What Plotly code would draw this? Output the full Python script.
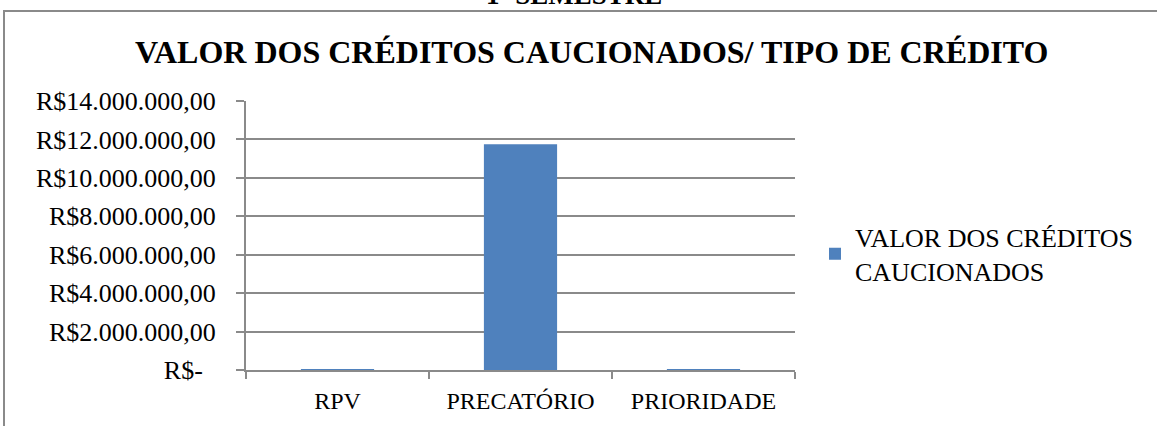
import plotly.graph_objects as go

categories = ["RPV", "PRECATÓRIO", "PRIORIDADE"]
values = [25000, 11750000, 25000]
series_name = "VALOR DOS CRÉDITOS<br>CAUCIONADOS"
y_tickvals = [0, 2000000, 4000000, 6000000, 8000000, 10000000, 12000000, 14000000]
y_ticktext = ["R$-\u00a0\u00a0", "R$2.000.000,00", "R$4.000.000,00", "R$6.000.000,00",
              "R$8.000.000,00", "R$10.000.000,00", "R$12.000.000,00", "R$14.000.000,00"]
title_text = "VALOR DOS CRÉDITOS CAUCIONADOS/ TIPO DE CRÉDITO"
super_title = "1º SEMESTRE"

W, H = 1157, 426
L, R, T, B = 246, 795, 101, 370
pw, ph = R - L, B - T

def px(x):
    return (x - L) / pw

def py(y):
    return (B - y) / ph

FONT = "Liberation Serif, Times New Roman, serif"
GRAY = "#8a8a8a"

fig = go.Figure()
fig.add_trace(go.Bar(x=categories, y=values, name=series_name,
                     marker=dict(color="#4F81BD", line=dict(width=0)),
                     showlegend=True))

fig.update_layout(
    width=W, height=H,
    margin=dict(l=L, r=W - R, t=T, b=H - B, pad=0),
    paper_bgcolor="white", plot_bgcolor="white",
    font=dict(family=FONT, color="black", size=24),
    bargap=0.6,
    showlegend=True,
    legend=dict(x=px(815), y=py(254), xanchor="left", yanchor="middle",
                font=dict(size=26, family=FONT), itemwidth=30,
                bgcolor="rgba(0,0,0,0)", tracegroupgap=0),
    xaxis=dict(type="category", showgrid=False, showline=True, linecolor=GRAY,
               linewidth=2, ticks="outside", ticklen=7, tickcolor=GRAY, tickwidth=2,
               tickson="boundaries", tickfont=dict(size=24, family=FONT),
               zeroline=False, ticklabelstandoff=8),
    yaxis=dict(range=[0, 14000000], tickvals=y_tickvals, ticktext=y_ticktext,
               showgrid=True, gridcolor=GRAY, gridwidth=2, showline=True,
               linecolor=GRAY, linewidth=2, ticks="outside", ticklen=8,
               tickcolor=GRAY, tickwidth=2, tickfont=dict(size=26, family=FONT),
               zeroline=False, ticklabelstandoff=15),
)

# title
fig.add_annotation(text="<b>" + title_text + "</b>", x=px(591), y=py(52),
                   xref="paper", yref="paper", xanchor="center", yanchor="middle",
                   showarrow=False, font=dict(size=32, family=FONT, color="black"))
# super title, cut off at the top edge as in the original
fig.add_annotation(text="<b>" + super_title + "</b>", x=px(574), y=py(12),
                   xref="paper", yref="paper", xanchor="center", yanchor="bottom",
                   showarrow=False, font=dict(size=27, family=FONT, color="black"))

# outer chart border (top and left visible)
fig.add_shape(type="line", xref="paper", yref="paper",
              x0=px(3), x1=px(1160), y0=py(11), y1=py(11),
              line=dict(color=GRAY, width=2))
fig.add_shape(type="line", xref="paper", yref="paper",
              x0=px(4), x1=px(4), y0=py(11), y1=py(430),
              line=dict(color=GRAY, width=2))

fig.write_html("out.html", config={"displayModeBar": False},
               post_script="document.body.style.margin='0';")
